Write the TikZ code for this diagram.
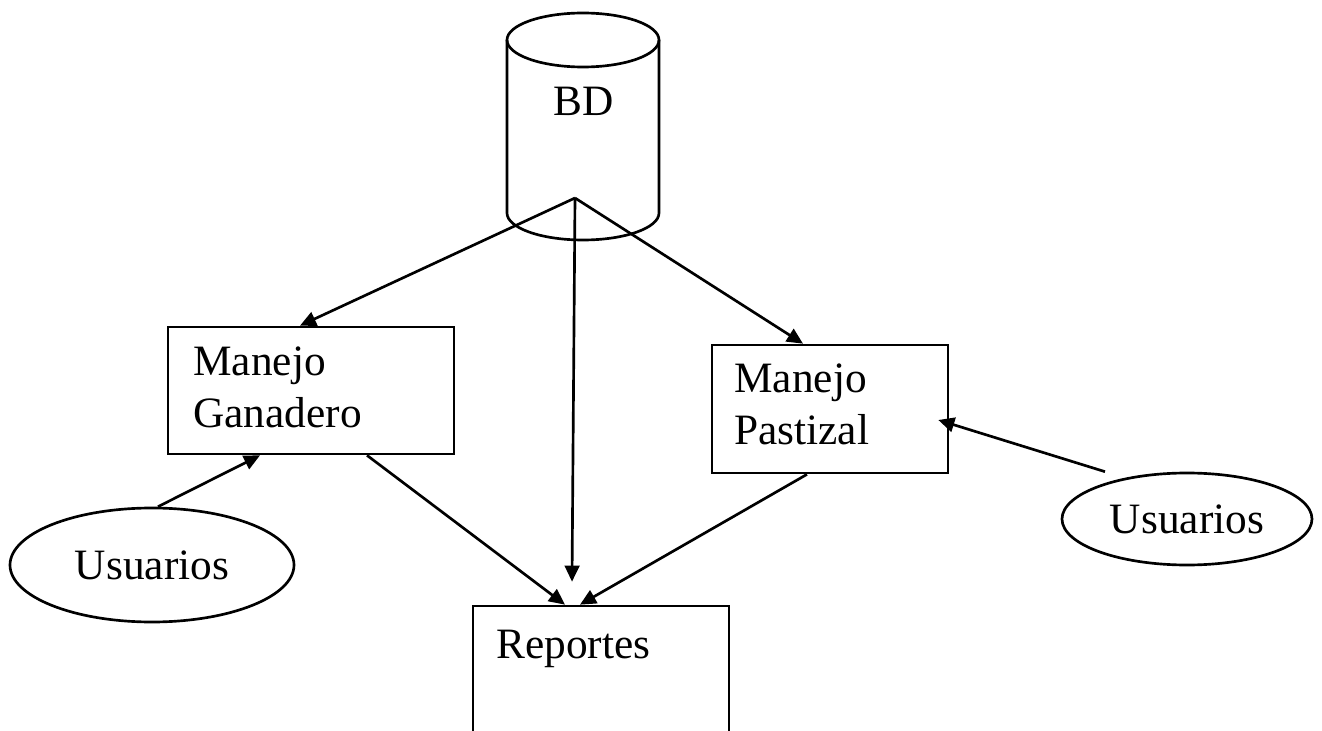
\documentclass[tikz,border=0pt]{standalone}
\usepackage{fontspec}
\setmainfont{Liberation Serif}
\usetikzlibrary{shapes.geometric,arrows.meta}

\tikzset{every picture/.style={line width=2pt}}
\tikzset{
  caja/.style={draw, rectangle, inner sep=0pt},
  usuario/.style={draw, ellipse, inner sep=0pt, font=\fontsize{32.5}{39}\selectfont},
  texto/.style={inner sep=0pt, align=left, font=\fontsize{32.5}{39}\selectfont},
  flecha/.style={-{Triangle[length=12pt,width=11pt]}},
}

\begin{document}
\begin{tikzpicture}[x=0.75pt,y=0.75pt,yscale=-1,xscale=1,line width=2pt]
\useasboundingbox (0,0) rectangle (1322,731);

%Shape: Can [BD]
\draw (507,40) -- (507,213) arc[start angle=180, end angle=0, x radius=76, y radius=27] -- (659,40) ;
\draw (583,40) ellipse [x radius=76, y radius=27] ;
\coordinate (bdbase) at (575,198) ;

%Shape: Rectangle [Manejo Ganadero]
\node[caja, minimum width=214.5pt, minimum height=95.25pt] (ganadero) at (311,390.5) {};
%Shape: Rectangle [Manejo Pastizal]
\node[caja, minimum width=177pt, minimum height=96pt] (pastizal) at (830,409) {};
%Shape: Rectangle [Reportes]
\node[caja, minimum width=192pt, minimum height=100.5pt] (reportes) at (601,673) {};

%Shape: Ellipse [Usuarios]
\node[usuario, minimum width=213pt, minimum height=85.5pt] (uganadero) at (152,565) {Usuarios};
%Shape: Ellipse [Usuarios]
\node[usuario, minimum width=187.5pt, minimum height=69pt] (upastizal) at (1187,519) {Usuarios};

%Straight Lines
\draw[flecha] (bdbase) -- ([xshift=-8.25pt]ganadero.north) ;
\draw[flecha] (bdbase) -- ([xshift=-20.25pt]pastizal.north) ;
\draw[flecha] (bdbase) -- ([xshift=-21.75pt,yshift=-17.25pt]reportes.north) ;
%Straight Lines
\draw[flecha] ([xshift=42pt]ganadero.south) -- ([xshift=-27pt]reportes.north) ;
\draw[flecha] ([xshift=-17.25pt]pastizal.south) -- ([xshift=-15.75pt]reportes.north) ;
%Straight Lines
\draw[flecha] ([xshift=4.5pt]uganadero.north) -- ([xshift=-38.25pt]ganadero.south) ;
\draw[flecha] ([xshift=-61.5pt]upastizal.north) -- ([xshift=-8.25pt,yshift=8.25pt]pastizal.east) ;

% Text Node
\node[texto] (tbd) at (584,101) {BD};
% Text Node
\node[texto, anchor=north west] (tganadero) at (192,345) {Manejo\\Ganadero};
% Text Node
\node[texto, anchor=north west] (tpastizal) at (733,362) {Manejo\\Pastizal};
% Text Node
\node[texto, anchor=base west] (treportes) at (495,658) {Reportes};

\end{tikzpicture}
\end{document}
